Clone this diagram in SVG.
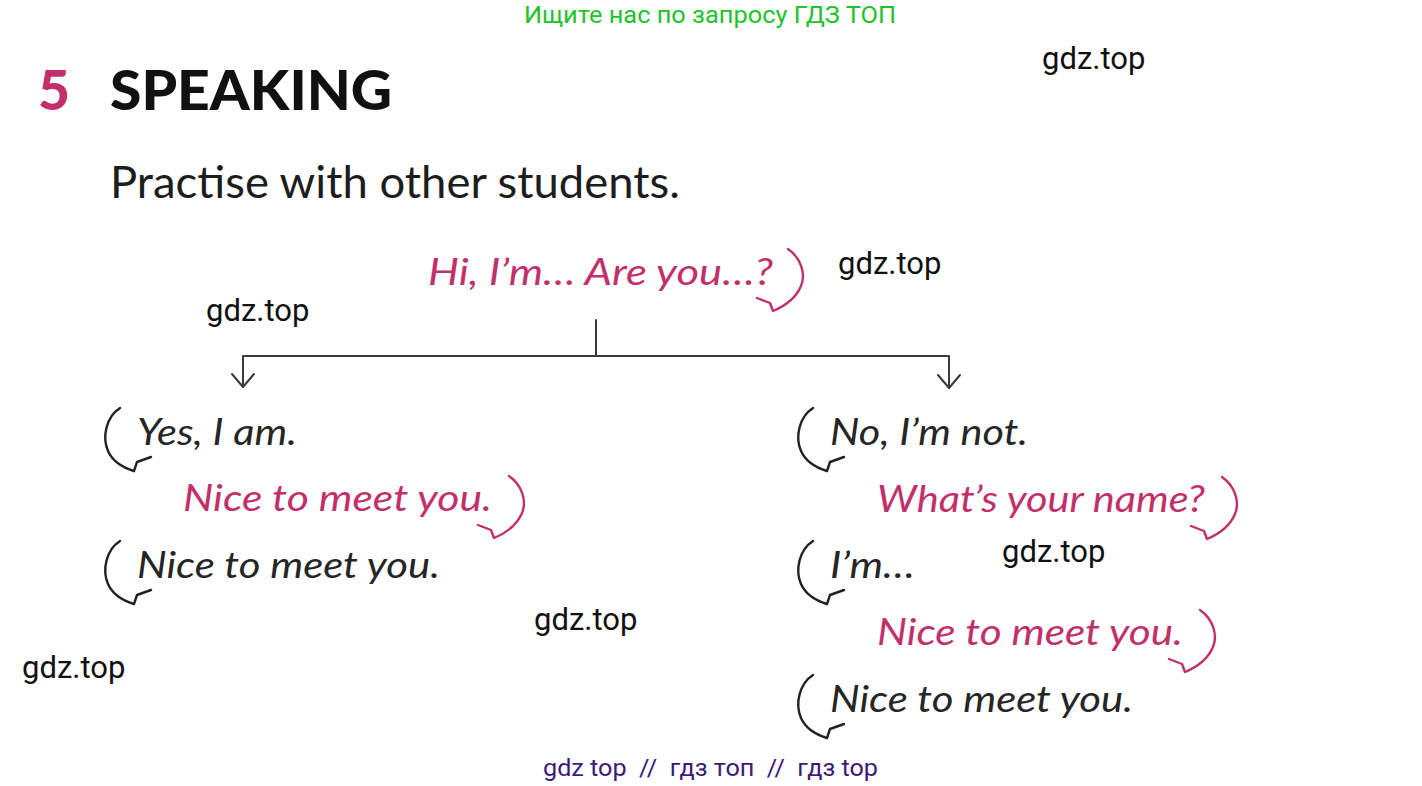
<svg xmlns="http://www.w3.org/2000/svg" width="1422" height="786" viewBox="0 0 1422 786">
<style>
.wm{font-family:Roboto,"Liberation Sans",sans-serif;font-size:31px;fill:#111}
.dlg{font-family:Lato,"Open Sans","Liberation Sans",sans-serif;font-style:italic;font-weight:400;font-size:37px}
.blk{fill:#262626}
.pnk{fill:#c2306c}
.brk{fill:none;stroke-width:2.4;stroke-linecap:round;stroke-linejoin:round}
.bb{stroke:#222}
.bp{stroke:#c2306c}
.con{fill:none;stroke:#3a3a3a;stroke-width:2;stroke-linecap:round;stroke-linejoin:round}
</style>
<defs>
<path id="lb" d="M-17,-37 C-31,-28 -35,-8 -29,6 C-24,17 -13,23 -3,26 L0,17 L14,12"/>
<path id="rb" d="M15,-35 C28,-26 33,-10 28,2 C23,14 12,22 0,27 L-3,19 L-16,14"/>
</defs>
<rect width="1422" height="786" fill="#ffffff"/>

<g id="header">
<text x="524" y="23" font-family="Roboto,'Liberation Sans',sans-serif" font-size="24" fill="#22c32a" textLength="372" lengthAdjust="spacingAndGlyphs">Ищите нас по запросу ГДЗ ТОП</text>
<text x="38" y="110" font-family="Lato,'Liberation Sans',sans-serif" font-weight="900" font-size="55" fill="#c2306c" textLength="32" lengthAdjust="spacingAndGlyphs">5</text>
<text x="110" y="110" font-family="Lato,'Liberation Sans',sans-serif" font-weight="900" font-size="55" fill="#111" textLength="282" lengthAdjust="spacingAndGlyphs">SPEAKING</text>
<text x="110" y="198" font-family="Lato,'Open Sans','Liberation Sans',sans-serif" font-size="44" fill="#1d1d1d" textLength="570" lengthAdjust="spacingAndGlyphs">Practise with other students.</text>
</g>

<g id="watermarks">
<text class="wm" x="1042" y="69">gdz.top</text>
<text class="wm" x="838" y="274">gdz.top</text>
<text class="wm" x="206" y="321">gdz.top</text>
<text class="wm" x="1002" y="562">gdz.top</text>
<text class="wm" x="534" y="630">gdz.top</text>
<text class="wm" x="22" y="678">gdz.top</text>
<text x="543" y="776" xml:space="preserve" font-family="Roboto,'Liberation Sans',sans-serif" font-size="24" fill="#3d1a78" textLength="335" lengthAdjust="spacingAndGlyphs">gdz top  //  гдз топ  //  гдз top</text>
</g>

<g id="connectors">
<path class="con" d="M596,320 V356"/>
<path class="con" d="M243,387 V356 H949 V388"/>
<path class="con" d="M232,374 L243,387 L254,374"/>
<path class="con" d="M938,375 L949,388 L960,375"/>
</g>

<g id="n-question">
<text class="dlg pnk" x="428" y="285" textLength="345" lengthAdjust="spacingAndGlyphs">Hi, I’m… Are you…?</text>
<use href="#rb" class="brk bp" transform="translate(773,284)"/>
</g>

<g id="n-yes">
<text class="dlg blk" x="137" y="445" textLength="160" lengthAdjust="spacingAndGlyphs">Yes, I am.</text>
<use href="#lb" class="brk bb" transform="translate(137,445)"/>
</g>
<g id="n-yes-nice-pink">
<text class="dlg pnk" x="183" y="511" textLength="309" lengthAdjust="spacingAndGlyphs">Nice to meet you.</text>
<use href="#rb" class="brk bp" transform="translate(494,511)"/>
</g>
<g id="n-yes-nice-black">
<text class="dlg blk" x="137" y="578" textLength="303" lengthAdjust="spacingAndGlyphs">Nice to meet you.</text>
<use href="#lb" class="brk bb" transform="translate(137,578)"/>
</g>

<g id="n-no">
<text class="dlg blk" x="830" y="445" textLength="198" lengthAdjust="spacingAndGlyphs">No, I’m not.</text>
<use href="#lb" class="brk bb" transform="translate(830,445)"/>
</g>
<g id="n-name">
<text class="dlg pnk" x="877" y="512" textLength="328" lengthAdjust="spacingAndGlyphs">What’s your name?</text>
<use href="#rb" class="brk bp" transform="translate(1207,512)"/>
</g>
<g id="n-im">
<text class="dlg blk" x="830" y="578" textLength="85" lengthAdjust="spacingAndGlyphs">I’m…</text>
<use href="#lb" class="brk bb" transform="translate(830,578)"/>
</g>
<g id="n-no-nice-pink">
<text class="dlg pnk" x="877" y="645" textLength="306" lengthAdjust="spacingAndGlyphs">Nice to meet you.</text>
<use href="#rb" class="brk bp" transform="translate(1185,645)"/>
</g>
<g id="n-no-nice-black">
<text class="dlg blk" x="830" y="712" textLength="303" lengthAdjust="spacingAndGlyphs">Nice to meet you.</text>
<use href="#lb" class="brk bb" transform="translate(830,712)"/>
</g>
</svg>
